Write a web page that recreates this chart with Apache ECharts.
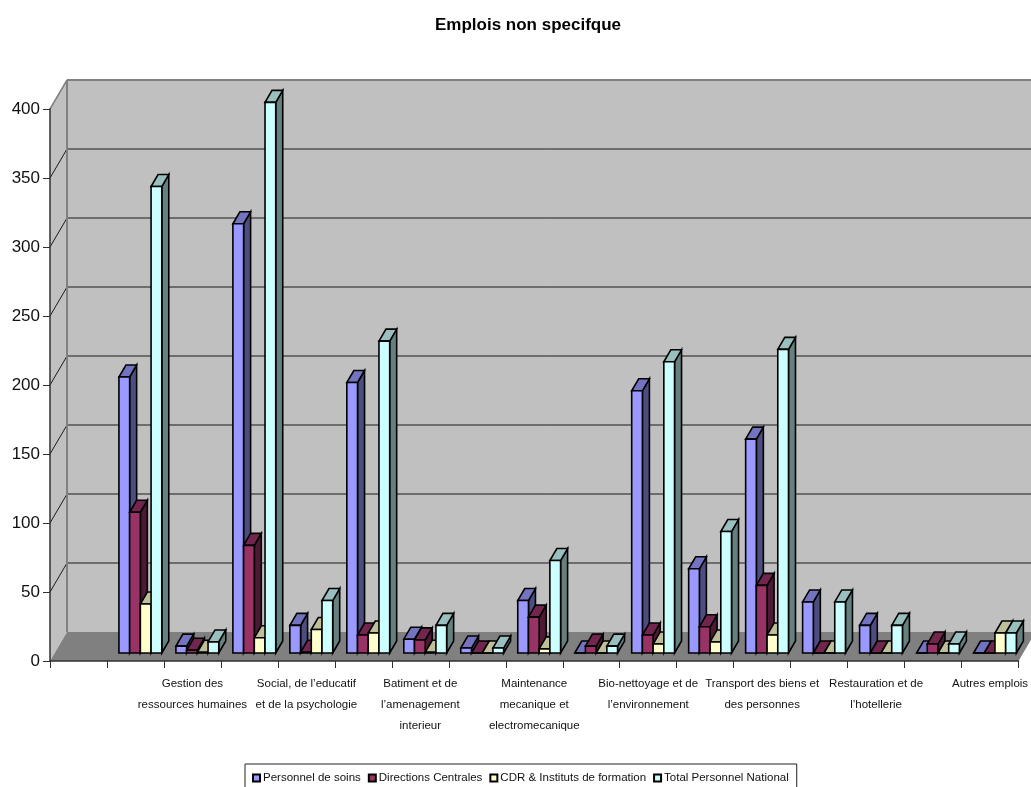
<!DOCTYPE html>
<html>
<head>
<meta charset="utf-8">
<style>html,body{margin:0;padding:0;background:#fff;overflow:hidden}#chart{width:1031px;height:787px}</style>
<script src="https://cdn.jsdelivr.net/npm/echarts@6/dist/echarts.min.js"></script>
</head>
<body>
<div id="chart"></div>
<script>
// Job counts per family; blank categories carry bars without a printed label.
const categories = ['', '', 'Gestion des\nressources humaines', '', 'Social, de l\u2019educatif\net de la psychologie', '',
  'Batiment et de\nl\u2019amenagement\ninterieur', '', 'Maintenance\nmecanique et\nelectromecanique', '',
  'Bio-nettoyage et de\nl\u2019environnement', '', 'Transport des biens et\ndes personnes', '',
  'Restauration et de\nl\u2019hotellerie', '', 'Autres emplois'];
const personnelDeSoins = [null, 200, 5, 311, 20, 196, 10, 3.6, 38, 0, 190, 61, 155, 37, 20, 0, 0];
const directionsCentrales = [null, 102, 2, 78, 0.5, 13, 9.5, 0, 26, 5, 13, 19, 49, 0, 0, 6.5, 0];
const cdrInstituts = [null, 35.5, 0.5, 11, 17, 14.5, 0.5, 0, 3, 0, 6.5, 8, 13, 0, 0, 0, 14.5];
const totalNational = [null, 338, 8, 399, 38, 226, 20, 3.6, 67, 5, 211, 88, 220, 37, 20, 6.5, 14.5];
const yTicks = [0, 50, 100, 150, 200, 250, 300, 350, 400];
const seriesNames = ['Personnel de soins', 'Directions Centrales', 'CDR & Instituts de formation', 'Total Personnel National'];
const seriesValues = [personnelDeSoins, directionsCentrales, cdrInstituts, totalNational];
const faceColors = [
  { front: '#9999FF', top: '#7373BF', side: '#4D4D80' },
  { front: '#993366', top: '#73264D', side: '#4D1A33' },
  { front: '#FFFFCC', top: '#BFBF99', side: '#808066' },
  { front: '#CCFFFF', top: '#99BFBF', side: '#668080' }
];

// Fake perspective: the chart box recedes by (WALL_DX, -WALL_DY); bars stand inside it.
const WALL_DX = 17, WALL_DY = 29;
const BAR_SHIFT_X = 4.9, BAR_SHIFT_Y = 8, BAR_DX = 7, BAR_DY = 12;
const BAR_RATIO = 0.188;
const FONT = '"Liberation Sans", Arial, sans-serif';

function poly(points, fill, stroke, width) {
  return { type: 'polygon', shape: { points }, style: { fill, stroke: stroke || 'none', lineWidth: width || 0, lineJoin: 'miter' }, silent: true };
}
function seg(x1, y1, x2, y2, stroke, width) {
  return { type: 'line', shape: { x1, y1, x2, y2 }, style: { stroke, lineWidth: width }, silent: true };
}

function renderWalls(params, api) {
  const rect = params.coordSys;
  const left = rect.x, right = rect.x + rect.width;
  const y0 = api.coord([0, 0])[1];
  const yTop = api.coord([0, yTicks[yTicks.length - 1]])[1];
  const bx = left + WALL_DX, bxR = right + WALL_DX;
  const children = [
    poly([[bx, y0 - WALL_DY], [bxR, y0 - WALL_DY], [bxR, yTop - WALL_DY], [bx, yTop - WALL_DY]], '#C0C0C0'),
    poly([[left, y0], [bx, y0 - WALL_DY], [bx, yTop - WALL_DY], [left, yTop]], '#C0C0C0'),
    poly([[left, y0], [right, y0], [bxR, y0 - WALL_DY], [bx, y0 - WALL_DY]], '#808080')
  ];
  yTicks.slice(1, -1).forEach(t => {
    const y = api.coord([0, t])[1];
    children.push(seg(bx, y - WALL_DY, bxR, y - WALL_DY, '#1a1a1a', 1));
    children.push(seg(left, y, bx, y - WALL_DY, '#1a1a1a', 1));
  });
  children.push(seg(bx, yTop - WALL_DY, bxR, yTop - WALL_DY, '#808080', 2));
  children.push(seg(bx, yTop - WALL_DY, bx, y0 - WALL_DY, '#808080', 2));
  children.push(seg(left, yTop, bx, yTop - WALL_DY, '#808080', 1.5));
  return { type: 'group', children };
}

function makeBarRenderer(k) {
  return function (params, api) {
    const v = api.value(1);
    if (v === null || v === undefined || isNaN(v)) return null;
    const idx = api.value(0);
    const band = api.size([1, 0])[0];
    const w = band * BAR_RATIO;
    const cx = api.coord([idx, 0])[0];
    const x0 = cx + BAR_SHIFT_X + (k - 2) * w;
    const x1 = x0 + w;
    const yb = api.coord([idx, 0])[1] - BAR_SHIFT_Y;
    const yt = api.coord([idx, v])[1] - BAR_SHIFT_Y;
    const c = faceColors[k];
    const S = '#000', L = 1.6;
    return {
      type: 'group',
      children: [
        poly([[x1, yb], [x1 + BAR_DX, yb - BAR_DY], [x1 + BAR_DX, yt - BAR_DY], [x1, yt]], c.side, S, L),
        poly([[x0, yt], [x1, yt], [x1 + BAR_DX, yt - BAR_DY], [x0 + BAR_DX, yt - BAR_DY]], c.top, S, L),
        poly([[x0, yb], [x1, yb], [x1, yt], [x0, yt]], c.front, S, L)
      ]
    };
  };
}

const barSeries = seriesNames.map((name, k) => ({
  type: 'custom',
  name,
  coordinateSystem: 'cartesian2d',
  renderItem: makeBarRenderer(k),
  itemStyle: { color: faceColors[k].front, borderColor: '#000', borderWidth: 1.5 },
  encode: { x: 0, y: 1 },
  data: seriesValues[k].map((v, i) => [i, v])
}));

const chart = echarts.init(document.getElementById('chart'), null, { renderer: 'canvas' });
chart.setOption({
  animation: false,
  backgroundColor: '#fff',
  title: {
    text: 'Emplois non specifque',
    left: 430,
    top: 12,
    textStyle: { fontFamily: FONT, fontSize: 17, fontWeight: 'bold', color: '#000' }
  },
  legend: {
    data: seriesNames,
    left: 245,
    top: 764,
    padding: [8, 8, 11, 7],
    itemWidth: 7,
    itemHeight: 7,
    itemGap: 7,
    icon: 'rect',
    borderColor: '#222',
    borderWidth: 1,
    backgroundColor: '#fff',
    selectedMode: false,
    textStyle: { fontFamily: FONT, fontSize: 11.5, color: '#111', padding: [0, 0, 0, -2] }
  },
  grid: { left: 50, right: 9.5, top: 109, bottom: 126 },
  xAxis: {
    type: 'category',
    data: categories,
    boundaryGap: true,
    z: 5,
    axisLine: { lineStyle: { color: '#303030', width: 1.5 } },
    axisTick: { show: true, interval: 0, alignWithLabel: false, length: 7, lineStyle: { color: '#303030', width: 1 } },
    axisLabel: { interval: 0, margin: 12, fontFamily: FONT, fontSize: 11.5, lineHeight: 21, color: '#111' },
    splitLine: { show: false }
  },
  yAxis: {
    type: 'value',
    min: 0,
    max: 400,
    interval: 50,
    z: 5,
    axisLine: { show: true, lineStyle: { color: '#303030', width: 1.5 } },
    axisTick: { show: true, length: 7, lineStyle: { color: '#303030', width: 1 } },
    axisLabel: { margin: 10, fontFamily: FONT, fontSize: 17, color: '#111' },
    splitLine: { show: false }
  },
  series: [{
    type: 'custom',
    coordinateSystem: 'cartesian2d',
    renderItem: renderWalls,
    silent: true,
    encode: { x: 0, y: 1 },
    data: [[0, 0]],
    z: 1
  }].concat(barSeries)
});
</script>
</body>
</html>
